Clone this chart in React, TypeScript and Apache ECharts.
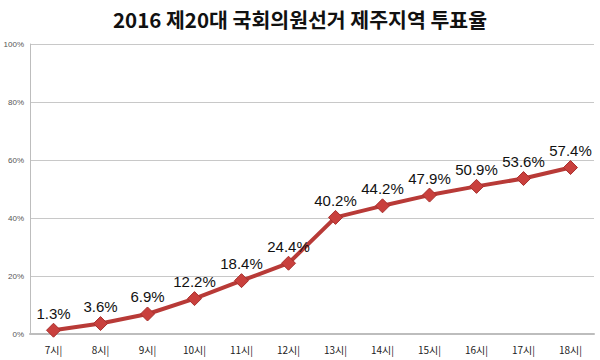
import React, { useEffect, useRef } from "react";
import * as echarts from "echarts";

const categories = ["7시", "8시", "9시", "10시", "11시", "12시", "13시", "14시", "15시", "16시", "17시", "18시"];
const turnout = [1.3, 3.6, 6.9, 12.2, 18.4, 24.4, 40.2, 44.2, 47.9, 50.9, 53.6, 57.4];
const titleText = "2016 제20대 국회의원선거 제주지역 투표율";

export default function App() {
  const ref = useRef<HTMLDivElement>(null);
  useEffect(() => {
    if (!ref.current) return;
    const chart = echarts.init(ref.current, null, { renderer: "svg" });
    chart.setOption({
      animation: false,
      backgroundColor: "#ffffff",
      title: {
        text: titleText,
        left: "center",
        top: 4,
        textStyle: { fontFamily: "Noto Sans CJK KR", fontWeight: "bold", fontSize: 20.5, color: "#111" },
      },
      grid: { left: 30, right: 6, top: 44, bottom: 26 },
      xAxis: {
        type: "category",
        data: categories,
        boundaryGap: true,
        axisLine: { lineStyle: { color: "#bdbdbd", width: 2 } },
        axisTick: { show: false },
        axisLabel: {
          margin: 10,
          fontSize: 10,
          color: "#222",
          fontFamily: "Noto Sans CJK KR",
          formatter: (v: string) => `${v}|`,
        },
      },
      yAxis: {
        type: "value",
        min: 0,
        max: 100,
        interval: 20,
        axisLine: { show: true, lineStyle: { color: "#bdbdbd", width: 1 } },
        axisTick: { show: false },
        splitLine: { lineStyle: { color: "#c8c8c8", width: 1 } },
        axisLabel: { fontSize: 8, color: "#555", margin: 6, formatter: "{value}%", fontFamily: "Arial" },
      },
      series: [
        {
          type: "line",
          data: turnout,
          symbol: "diamond",
          symbolSize: 14,
          lineStyle: { color: "#b83a37", width: 4 },
          itemStyle: { color: "#c9403d", borderColor: "#a8302d", borderWidth: 1 },
          label: {
            show: true,
            position: "top",
            distance: 2,
            formatter: (p: any) => `${p.value.toFixed(1)}%`,
            fontSize: 15,
            color: "#111",
            fontFamily: "Arial",
          },
        },
      ],
    });
    return () => chart.dispose();
  }, []);
  return <div ref={ref} style={{ width: 600, height: 360, position: "absolute", left: 0, top: 0 }} />;
}
